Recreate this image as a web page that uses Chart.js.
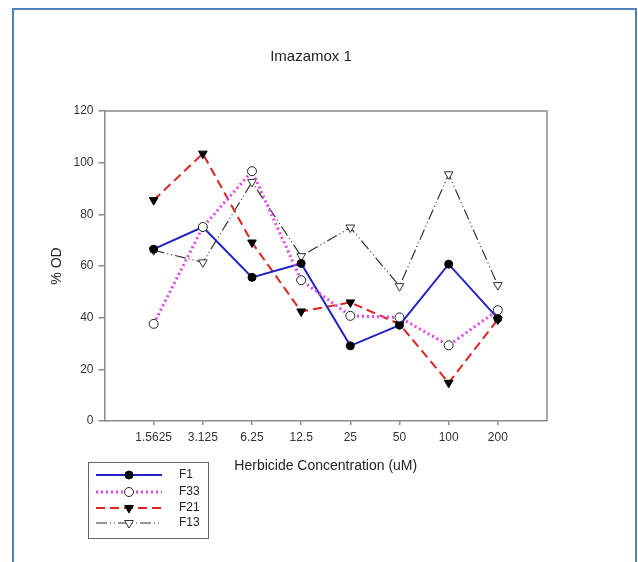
<!DOCTYPE html>
<html>
<head>
<meta charset="utf-8">
<script src="https://cdn.jsdelivr.net/npm/chart.js@4.4.0/dist/chart.umd.min.js"></script>
<style>
  html, body { margin: 0; padding: 0; background: #fff; }
  #wrap { position: relative; width: 638px; height: 562px; overflow: hidden; }
  #frame { position: absolute; left: 12px; top: 8px; width: 621px; height: 570px;
           border: 2px solid #4f81bd; border-bottom: none; }
  canvas { position: absolute; left: 0; top: 0; }
</style>
</head>
<body>
<div id="wrap">
  <div id="frame"></div>
  <canvas id="odChart" width="638" height="562"></canvas>
</div>
<script>
// Imazamox 1 - % OD by herbicide concentration
const categories = ["1.5625", "3.125", "6.25", "12.5", "25", "50", "100", "200"];
const yTicks = [0, 20, 40, 60, 80, 100, 120];
const f1  = [66.5, 75.1, 55.6, 61.0, 29.1, 37.1, 60.7, 39.7];
const f33 = [37.6, 75.1, 96.7, 54.5, 40.7, 40.1, 29.3, 42.9];
const f21 = [85.5, 103.5, 69.1, 42.4, 45.9, 37.5, 14.8, 39.3];
const f13 = [66.1, 61.4, 92.5, 63.8, 74.9, 52.2, 95.5, 52.6];

const FONT = "'Liberation Sans', Arial, sans-serif";
const AXIS = "#8a8a8a";

function pts(vals) {
  return vals.map((v, i) => ({ x: i + 1, y: v }));
}

const series = [
  { label: "F1", data: f1, color: "#2323c4", width: 2, dash: [], style: "circle",
    fill: "#000", stroke: "#000", radius: 4, rot: 0, order: 2 },
  { label: "F33", data: f33, color: "#e044ee", width: 3, dash: [2, 3], style: "circle",
    fill: "#fff", stroke: "#222", radius: 4.5, rot: 0, order: 1 },
  { label: "F21", data: f21, color: "#dd2222", width: 2, dash: [9, 5], style: "triangle",
    fill: "#000", stroke: "#000", radius: 5, rot: 180, order: 3 },
  { label: "F13", data: f13, color: "#333", width: 1.2, dash: [11, 3, 1, 3, 1, 3], style: "triangle",
    fill: "#fff", stroke: "#333", radius: 5, rot: 180, order: 4 }
];

// box round the plot, title and legend
const extras = {
  id: "extras",
  afterDraw(chart) {
    const ctx = chart.ctx;
    const a = chart.chartArea;
    ctx.save();
    ctx.strokeStyle = AXIS;
    ctx.lineWidth = 1.5;
    ctx.beginPath();
    ctx.moveTo(a.left, a.top);
    ctx.lineTo(a.right, a.top);
    ctx.lineTo(a.right, a.bottom);
    ctx.stroke();

    ctx.fillStyle = "#222";
    ctx.font = "15px " + FONT;
    ctx.textAlign = "center";
    ctx.textBaseline = "middle";
    ctx.fillText("Imazamox 1", 311, 57);

    // legend
    ctx.strokeStyle = "#666";
    ctx.lineWidth = 1;
    ctx.strokeRect(88.5, 462.5, 120, 76);
    const rows = [475, 492, 508, 523];
    series.forEach((s, i) => {
      const y = rows[i];
      ctx.strokeStyle = s.color;
      ctx.lineWidth = s.width;
      ctx.setLineDash(s.dash);
      ctx.beginPath();
      ctx.moveTo(96, y);
      ctx.lineTo(162, y);
      ctx.stroke();
      ctx.setLineDash([]);
      ctx.fillStyle = s.fill;
      ctx.strokeStyle = s.stroke;
      ctx.lineWidth = 1;
      ctx.beginPath();
      if (s.style === "circle") {
        ctx.arc(129, y, s.radius, 0, Math.PI * 2);
      } else {
        const r = s.radius;
        ctx.moveTo(129 - r * 0.87, y - r * 0.5);
        ctx.lineTo(129 + r * 0.87, y - r * 0.5);
        ctx.lineTo(129, y + r);
        ctx.closePath();
      }
      ctx.fill();
      ctx.stroke();
      ctx.fillStyle = "#222";
      ctx.font = "12px " + FONT;
      ctx.textAlign = "left";
      ctx.fillText(s.label, 179, y);
    });
    ctx.restore();
  }
};

new Chart(document.getElementById("odChart"), {
  type: "line",
  data: {
    datasets: series.map(s => ({
      label: s.label,
      data: pts(s.data),
      borderColor: s.color,
      borderWidth: s.width,
      borderDash: s.dash,
      pointStyle: s.style,
      pointRadius: s.radius,
      pointRotation: s.rot,
      pointBackgroundColor: s.fill,
      pointBorderColor: s.stroke,
      pointBorderWidth: 1,
      tension: 0,
      fill: false,
      order: s.order
    }))
  },
  options: {
    responsive: false,
    animation: false,
    layout: { padding: { left: 0, top: 111, right: 91, bottom: 81 } },
    plugins: {
      legend: { display: false },
      title: { display: false },
      tooltip: { enabled: false }
    },
    scales: {
      x: {
        type: "linear",
        min: 0,
        max: 9,
        afterFit(s) { s.height = 60; },
        afterBuildTicks(s) { s.ticks = categories.map((c, i) => ({ value: i + 1 })); },
        ticks: {
          autoSkip: false,
          maxRotation: 0,
          padding: 5,
          color: "#333",
          font: { family: FONT, size: 12 },
          callback: v => categories[v - 1]
        },
        grid: { drawOnChartArea: false, tickLength: 4, color: AXIS, lineWidth: 1.5 },
        border: { color: AXIS, width: 1.5 },
        title: {
          display: true,
          text: "Herbicide Concentration (uM)",
          color: "#222",
          font: { family: FONT, size: 14 },
          padding: { top: 0, bottom: 6 }
        }
      },
      y: {
        min: 0,
        max: 120,
        afterFit(s) { s.width = 104.5; },
        afterBuildTicks(s) { s.ticks = yTicks.map(v => ({ value: v })); },
        ticks: {
          padding: 5,
          color: "#333",
          font: { family: FONT, size: 12 }
        },
        grid: { drawOnChartArea: false, tickLength: 6, color: AXIS, lineWidth: 1.5 },
        border: { color: AXIS, width: 1.5 },
        title: {
          display: true,
          text: "% OD",
          color: "#222",
          font: { family: FONT, size: 14 },
          padding: { top: 49, bottom: 0 }
        }
      }
    }
  },
  plugins: [extras]
});
</script>
</body>
</html>
